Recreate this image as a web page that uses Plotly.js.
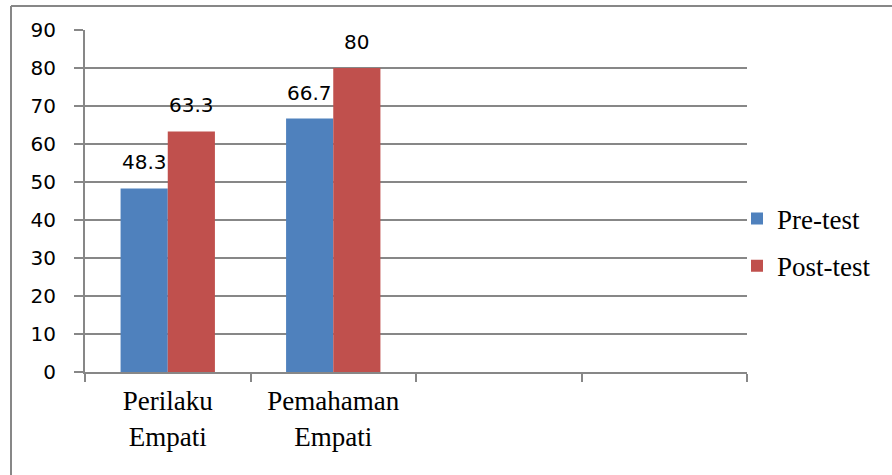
<!DOCTYPE html>
<html>
<head>
<meta charset="utf-8">
<script src="https://cdn.plot.ly/plotly-3.0.1.min.js"></script>
<style>html,body{margin:0;padding:0;background:#fff;}#chart{width:892px;height:475px;}</style>
</head>
<body>
<div id="chart"></div>
<script>
// Data
const categories = ["Perilaku<br>Empati", "Pemahaman<br>Empati"];
const emptySlots = [" ", "  "];
const seriesNames = ["Pre-test", "Post-test"];
const preTest = [48.3, 66.7];
const postTest = [63.3, 80];
const preLabels = ["48.3", "66.7"];
const postLabels = ["63.3", "80"];
const yTicks = [0, 10, 20, 30, 40, 50, 60, 70, 80, 90];

// Layout metrics
const W = 892, H = 475;
const margin = {l: 85, r: 145, t: 30, b: 103};
const bargap = 0.43;
const nSlots = categories.length + emptySlots.length;
const plotW = W - margin.l - margin.r;
const barW = plotW / nSlots * (1 - bargap) / 2;

const gray = "#878787";
const blue = "#4F81BD";
const red = "#C0504D";

const traces = [
  {type: "bar", name: seriesNames[0], x: categories, y: preTest,
   marker: {color: blue}, legendgroup: "a", hoverinfo: "none"},
  {type: "bar", name: seriesNames[1], x: categories, y: postTest,
   marker: {color: red}, legendgroup: "b", hoverinfo: "none"}
];

const annotations = [];
[[preTest, preLabels, -1], [postTest, postLabels, 1]].forEach(([vals, labs, side]) => {
  vals.forEach((v, i) => {
    annotations.push({
      x: categories[i], y: v, xref: "x", yref: "y",
      text: labs[i], showarrow: false,
      xanchor: "center", yanchor: "bottom",
      xshift: side * barW / 2, yshift: 12,
      font: {family: "DejaVu Sans", size: 20, color: "#000"}
    });
  });
});

const layout = {
  width: W, height: H,
  margin: margin,
  paper_bgcolor: "#fff", plot_bgcolor: "#fff",
  barmode: "group", bargap: bargap, bargroupgap: 0,
  showlegend: true,
  legend: {
    x: (737 - margin.l) / plotW, xanchor: "left",
    y: 0.3787, yanchor: "middle",
    traceorder: "grouped", tracegroupgap: 9,
    font: {family: "Liberation Serif", size: 27, color: "#000"},
    bgcolor: "rgba(0,0,0,0)"
  },
  xaxis: {
    type: "category",
    categoryorder: "array",
    categoryarray: categories.concat(emptySlots),
    range: [-0.5, nSlots - 0.5],
    tickson: "boundaries",
    ticks: "outside", ticklen: 8, tickwidth: 2, tickcolor: gray,
    ticklabelstandoff: 4,
    showline: true, linecolor: gray, linewidth: 2,
    showgrid: false, zeroline: false,
    tickfont: {family: "Liberation Serif", size: 27, color: "#000"},
    fixedrange: true
  },
  yaxis: {
    range: [0, 90],
    tickvals: yTicks,
    ticktext: yTicks.map(String),
    ticks: "outside", ticklen: 9, tickwidth: 2, tickcolor: gray,
    ticklabelstandoff: 14,
    showline: true, linecolor: gray, linewidth: 2,
    showgrid: true, gridcolor: gray, gridwidth: 2,
    zeroline: false,
    tickfont: {family: "DejaVu Sans", size: 20, color: "#000"},
    fixedrange: true
  },
  annotations: annotations,
  shapes: [
    {type: "line", xref: "paper", yref: "paper",
     x0: (11 - margin.l) / plotW, x1: (W + 5 - margin.l) / plotW,
     y0: (H - margin.b - 6) / (H - margin.t - margin.b), y1: (H - margin.b - 6) / (H - margin.t - margin.b),
     line: {color: gray, width: 2}},
    {type: "line", xref: "paper", yref: "paper",
     x0: (11 - margin.l) / plotW, x1: (11 - margin.l) / plotW,
     y0: (H - margin.b - 6) / (H - margin.t - margin.b), y1: (H - margin.b - H - 5) / (H - margin.t - margin.b),
     line: {color: gray, width: 2}}
  ]
};

Plotly.newPlot("chart", traces, layout, {staticPlot: true, displayModeBar: false});
</script>
</body>
</html>
